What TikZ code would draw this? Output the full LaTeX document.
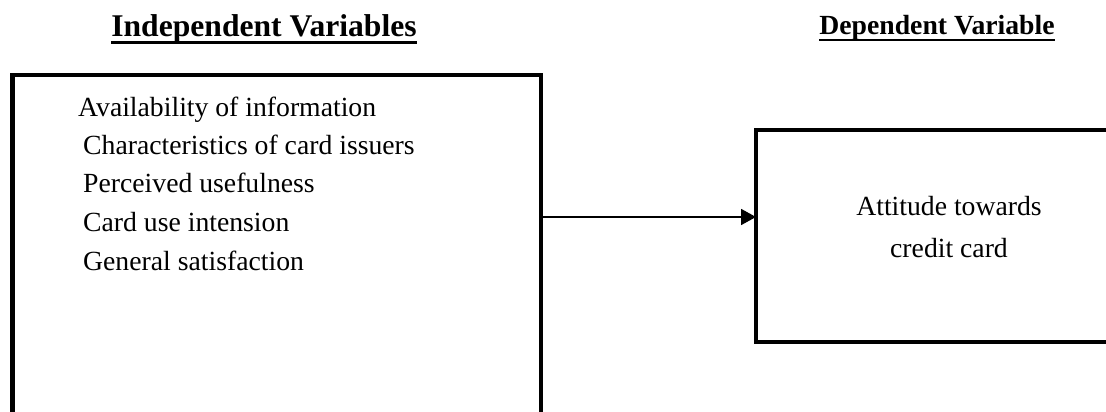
\documentclass[tikz,border=0pt]{standalone}
\usepackage{fontspec}
\setmainfont{Liberation Serif}
\usepackage{tikz}
\usetikzlibrary{arrows.meta,positioning,calc}

\begin{document}
\begin{tikzpicture}[x=1pt,y=-1pt,
    every node/.style={inner sep=0pt},
    item/.style={anchor=base west,font=\fontsize{27.7}{33}\selectfont},
    head/.style={anchor=base,font=\bfseries\fontsize{27.7}{33}\selectfont},
    frame/.style={draw,line width=4.5pt,outer sep=0pt}]
    \useasboundingbox (0,0) rectangle (1106,412);

    \node [frame,minimum width=528.5pt,minimum height=385pt] (ivbox) at (276.75,267.5) {};
    \node [frame,minimum width=394pt,minimum height=212pt] (dvbox) at (953,236) {};

    \node [head,font=\bfseries\fontsize{31.6}{38}\selectfont] (iv) at (264,37) {Independent Variables};
    \node [head] (dv) at (937,35) {Dependent Variable};
    \draw [line width=3pt] ([yshift=-5.5pt]iv.base west) -- ([yshift=-5.5pt]iv.base east);
    \draw [line width=2pt] ([yshift=-5pt]dv.base west) -- ([yshift=-5pt]dv.base east);

    \node [item] (avail) at (78,116) {Availability of information};
    \node [item] (issuer) at (83,154) {Characteristics of card issuers};
    \node [item] (useful) at (83,192) {Perceived usefulness};
    \node [item] (intent) at (83,231) {Card use intension};
    \node [item] (satisf) at (83,270) {General satisfaction};

    % base of a two-line node is the last line
    \node [align=center,font=\fontsize{27.7}{42}\selectfont,anchor=base] (att) at (949,257) {Attitude towards\\credit card};

    \coordinate (mid) at (650,217);
    \draw [line width=1.8pt,-{Triangle[length=15pt,width=16pt]}] (ivbox.east |- mid) -- (dvbox.west |- mid);
\end{tikzpicture}
\end{document}
